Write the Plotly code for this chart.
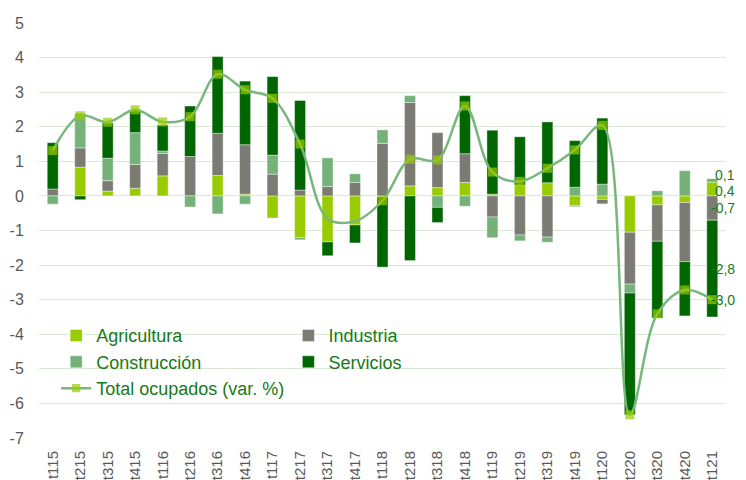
"""Contribución por sectores a la variación del total de ocupados."""

import plotly.graph_objects as go

categories = [
    "t115", "t215", "t315", "t415", "t116", "t216", "t316", "t416",
    "t117", "t217", "t317", "t417", "t118", "t218", "t318", "t418",
    "t119", "t219", "t319", "t419", "t120", "t220", "t320", "t420", "t121",
]

agricultura = [
    0.00, 0.83, 0.14, 0.22, 0.58, 0.00, 0.59, 0.05,
    -0.64, -1.20, -1.33, -0.84, -0.03, 0.29, 0.24, 0.39,
    0.05, 0.31, 0.38, -0.28, -0.10, -1.05, -0.26, -0.19, 0.40,
]
industria = [
    0.20, 0.56, 0.30, 0.69, 0.65, 1.14, 1.22, 1.43,
    0.63, 0.17, 0.27, 0.39, 1.52, 2.41, 1.59, 0.83,
    -0.61, -1.13, -1.19, -0.03, -0.13, -1.50, -1.05, -1.71, -0.70,
]
construccion = [
    -0.24, 1.00, 0.65, 0.92, 0.07, -0.32, -0.52, -0.24,
    0.55, -0.07, 0.83, 0.25, 0.39, 0.20, -0.33, -0.30,
    -0.60, -0.17, -0.15, 0.25, 0.34, -0.26, 0.15, 0.73, 0.10,
]
servicios = [
    1.34, -0.11, 1.02, 0.63, 0.75, 1.46, 2.22, 1.84,
    2.27, 2.59, -0.40, -0.52, -2.03, -1.87, -0.44, 1.68,
    1.85, 1.40, 1.76, 1.35, 1.91, -3.52, -2.22, -1.57, -2.80,
]
total = [
    1.31, 2.32, 2.13, 2.49, 2.14, 2.29, 3.52, 3.07,
    2.82, 1.50, -0.65, -0.73, -0.14, 1.06, 1.04, 2.60,
    0.69, 0.42, 0.80, 1.33, 2.04, -6.33, -3.41, -2.72, -3.00,
]
# the reference draws no marker on these two quarters
no_marker = ["t317", "t417"]

y_ticks = list(range(-7, 6))

FONT = "Liberation Sans, Arial, sans-serif"
TEXT_GREEN = "#177a17"
GRID = "#d9e9d5"

# name, values, colour, legend column
series = [
    ("Agricultura", agricultura, "#99cc00", "legend"),
    ("Industria", industria, "#7b7b74", "legend2"),
    ("Construcción", construccion, "#74b27a", "legend"),
    ("Servicios", servicios, "#006600", "legend2"),
]

fig = go.Figure()
for name, values, color, legend in series:
    fig.add_trace(
        go.Bar(
            x=categories,
            y=values,
            name=name,
            legend=legend,
            marker_color=color,
            marker_line=dict(color="rgba(255,255,255,0.5)", width=0.8),
        )
    )

fig.add_trace(
    go.Scatter(
        x=categories,
        y=total,
        name="Total ocupados (var. %)",
        legend="legend",
        mode="lines+markers",
        line=dict(color="#77b77b", width=2.5, shape="spline", smoothing=1),
        marker=dict(
            symbol="square",
            color="#99cc00",
            size=[0 if c in no_marker else 9 for c in categories],
            line=dict(width=0),
        ),
    )
)


def _label(v):
    return f"{v:.1f}".replace(".", ",")


# data labels for the last quarter, placed beside its segments
last = len(categories) - 1
a, i, c, s = agricultura[last], industria[last], construccion[last], servicios[last]
labels = [
    (a / 2, a, -2),
    (a + c / 2, c, 5),
    (i / 2, i, 0),
    (i + s / 2, s, 0),
    (total[last], total[last], 0),
]
for ypos, value, shift in labels:
    fig.add_annotation(
        x=categories[last],
        y=ypos,
        text=_label(value),
        showarrow=False,
        xanchor="right",
        xshift=25,
        yshift=shift,
        font=dict(family=FONT, size=14, color=TEXT_GREEN),
    )

legend_style = dict(
    orientation="v",
    yanchor="top",
    xanchor="left",
    bgcolor="rgba(0,0,0,0)",
    font=dict(family=FONT, size=18, color=TEXT_GREEN),
    traceorder="normal",
    tracegroupgap=0,
)

# the page body keeps its default 8px margin, so the figure is drawn
# 8px smaller and the margins are trimmed to land on the same pixels
fig.update_layout(
    width=738,
    height=472,
    barmode="relative",
    bargap=0.6,
    plot_bgcolor="white",
    paper_bgcolor="white",
    margin=dict(l=31, r=20, t=15, b=42),
    font=dict(family=FONT),
    legend=dict(x=0.025, y=0.291, **legend_style),
    legend2=dict(x=0.363, y=0.291, **legend_style),
    showlegend=True,
)
fig.update_xaxes(
    type="category",
    range=[-0.5, len(categories) - 0.5],
    automargin=False,
    tickangle=-90,
    tickfont=dict(family=FONT, size=15, color="#595959"),
    showgrid=False,
    showline=False,
    ticks="outside",
    ticklen=6,
    tickcolor="rgba(0,0,0,0)",
)
fig.update_yaxes(
    automargin=False,
    range=[-7, 5],
    tickmode="array",
    tickvals=y_ticks,
    ticktext=[str(v) for v in y_ticks],
    showgrid=True,
    gridcolor=GRID,
    gridwidth=1,
    zeroline=True,
    zerolinecolor=GRID,
    zerolinewidth=1,
    ticks="outside",
    ticklen=11,
    tickcolor="rgba(0,0,0,0)",
    tickfont=dict(family=FONT, size=16, color="#595959"),
)

fig.write_html("out.html")
